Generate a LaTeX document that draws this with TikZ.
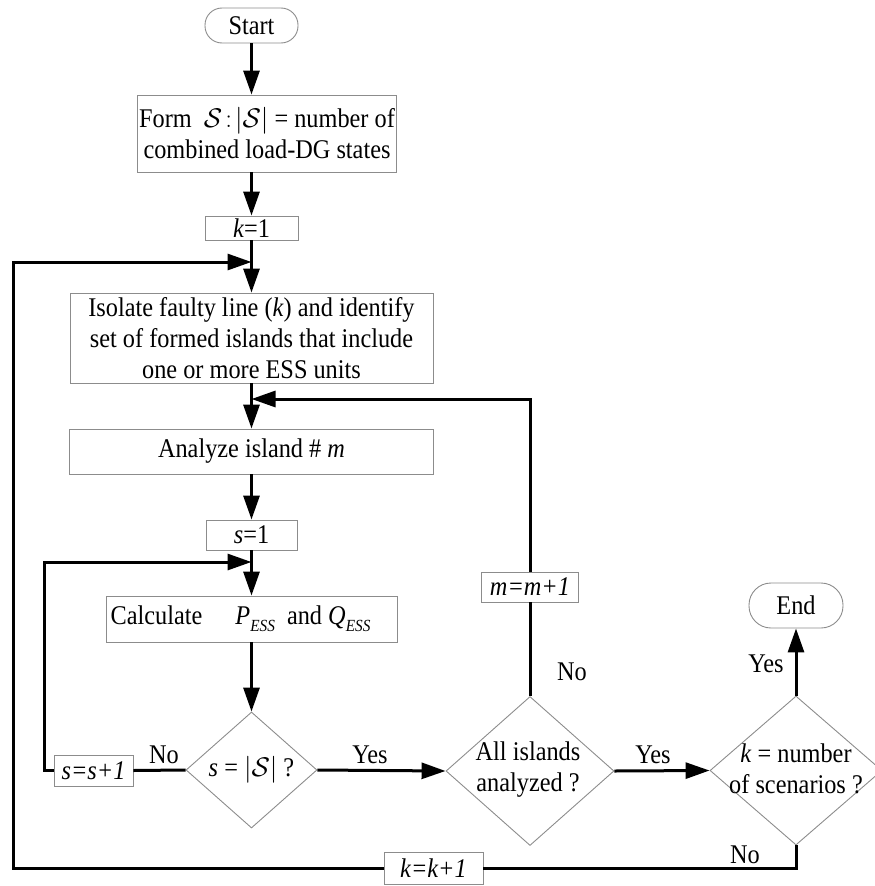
\RequirePackage{fix-cm}
\documentclass[tikz,border=0pt]{standalone}
\usepackage{fontspec}
\setmainfont{Liberation Serif}[FakeStretch=0.9]
\usetikzlibrary{shapes.geometric,arrows.meta}

% text size used throughout the flowchart
\newcommand\chartfont{\fontsize{27}{31}\selectfont}
% italic subscript in the ESS power symbols
\newcommand\esssub[1]{\raisebox{-0.55ex}{\fontsize{17}{17}\selectfont\textit{#1}}}

\begin{document}
\begin{tikzpicture}[x=1pt,y=-1pt,
  box/.style={draw=black!45, line width=0.9pt, rectangle, inner sep=0pt,
              font=\chartfont, align=center},
  term/.style={box, rounded corners=#1},
  dia/.style={draw=black!45, line width=0.9pt, diamond, inner sep=0pt},
  lbl/.style={font=\chartfont, inner sep=0pt, align=center},
  conn/.style={line width=3pt, black},
  arr/.style={conn, -{Triangle[length=24pt,width=16pt]}}
]
\useasboundingbox (0,0) rectangle (875,886);

% process boxes
\node[term=17pt, minimum width=93pt, minimum height=35pt] (start) at (251.5,25.5) {Start};
\node[box, minimum width=259pt, minimum height=77pt] (form) at (267,133.5)
  {Form \ $\mathcal{S}\!:\!\left|\mathcal{S}\right|$ = number of\\combined load-DG states};
\node[box, minimum width=93pt, minimum height=24pt] (k1) at (251.5,228) {\textit{k}=1};
\node[box, minimum width=363pt, minimum height=90pt] (isolate) at (251.5,338)
  {Isolate faulty line (\textit{k}) and identify\\set of formed islands that include\\one or more ESS units};
\node[box, minimum width=364pt, minimum height=45pt] (analyze) at (251.5,451.5)
  {Analyze island \# \textit{m}};
\node[box, minimum width=91pt, minimum height=30pt] (s1) at (251.5,535) {\textit{s}=1};
\node[box, minimum width=291pt, minimum height=46pt] (calc) at (251.5,619)
  {Calculate\quad\ \textit{P}\esssub{ESS} \ and \textit{Q}\esssub{ESS}\hspace*{22pt}};

% decisions
\node[dia, minimum width=131pt, minimum height=116pt] (d1) at (251.5,770) {};
\node[lbl] (d1t) at (d1) {\textit{s} = $\left|\mathcal{S}\right|$ ?};
\node[dia, minimum width=168pt, minimum height=149pt] (d2) at (530,771) {};
\node[lbl] (d2t) at (528,770) {All islands\\analyzed ?};
\node[dia, minimum width=172pt, minimum height=149pt] (d3) at (796,770.5) {};
\node[lbl] (d3t) at (796,769) {\textit{k} = number\\of scenarios ?};

% counters and end
\node[box, minimum width=79pt, minimum height=31pt] (ss1) at (93.5,770.5) {\textit{s=s+1}};
\node[box, minimum width=97pt, minimum height=30pt] (mm1) at (530,587) {\textit{m=m+1}};
\node[box, minimum width=99pt, minimum height=32pt] (kk1) at (433.5,868) {\textit{k=k+1}};
\node[term=22pt, minimum width=94pt, minimum height=45pt] (end) at (796,605.5) {End};

% junctions where loops rejoin the main line
\coordinate (j1) at (251.5,262);
\coordinate (j2) at (251.5,399);
\coordinate (j3) at (251.5,562);
\coordinate (kloop) at (13,262);
\coordinate (sloop) at (44,562);

% main flow
\draw[arr] (start.south) -- (start.south |- form.north);
\draw[arr] (start.south |- form.south) -- (k1.north);
\draw[arr] (k1.south) -- (isolate.north);
\draw[arr] (isolate.south) -- (analyze.north);
\draw[arr] (analyze.south) -- (s1.north);
\draw[arr] (s1.south) -- (calc.north);
\draw[arr] (calc.south) -- (d1.north);
\draw[arr] (d1.east) -- (d2.west);
\draw[arr] (d2.east) -- (d3.west);
\draw[arr] (d3.north) -- (end.south);

% inner loop over states
\draw[conn] (d1.west) -- (ss1.east);
\draw[arr] (ss1.west) -| (sloop) -- (j3);

% loop over islands
\draw[conn] (d2.north) -- (mm1.south);
\draw[arr] (mm1.north) |- (j2);

% loop over scenarios
\draw[conn] (d3.south) |- (kk1.east);
\draw[arr] (kk1.west) -| (kloop) -- (j1);

% branch labels
\node[lbl] (lno1) at (164,755) {No};
\node[lbl] (lyes1) at (370,755) {Yes};
\node[lbl] (lyes2) at (653,755) {Yes};
\node[lbl] (lno2) at (572,672) {No};
\node[lbl] (lyes3) at (766,664) {Yes};
\node[lbl] (lno3) at (745,855) {No};
\end{tikzpicture}
\end{document}
